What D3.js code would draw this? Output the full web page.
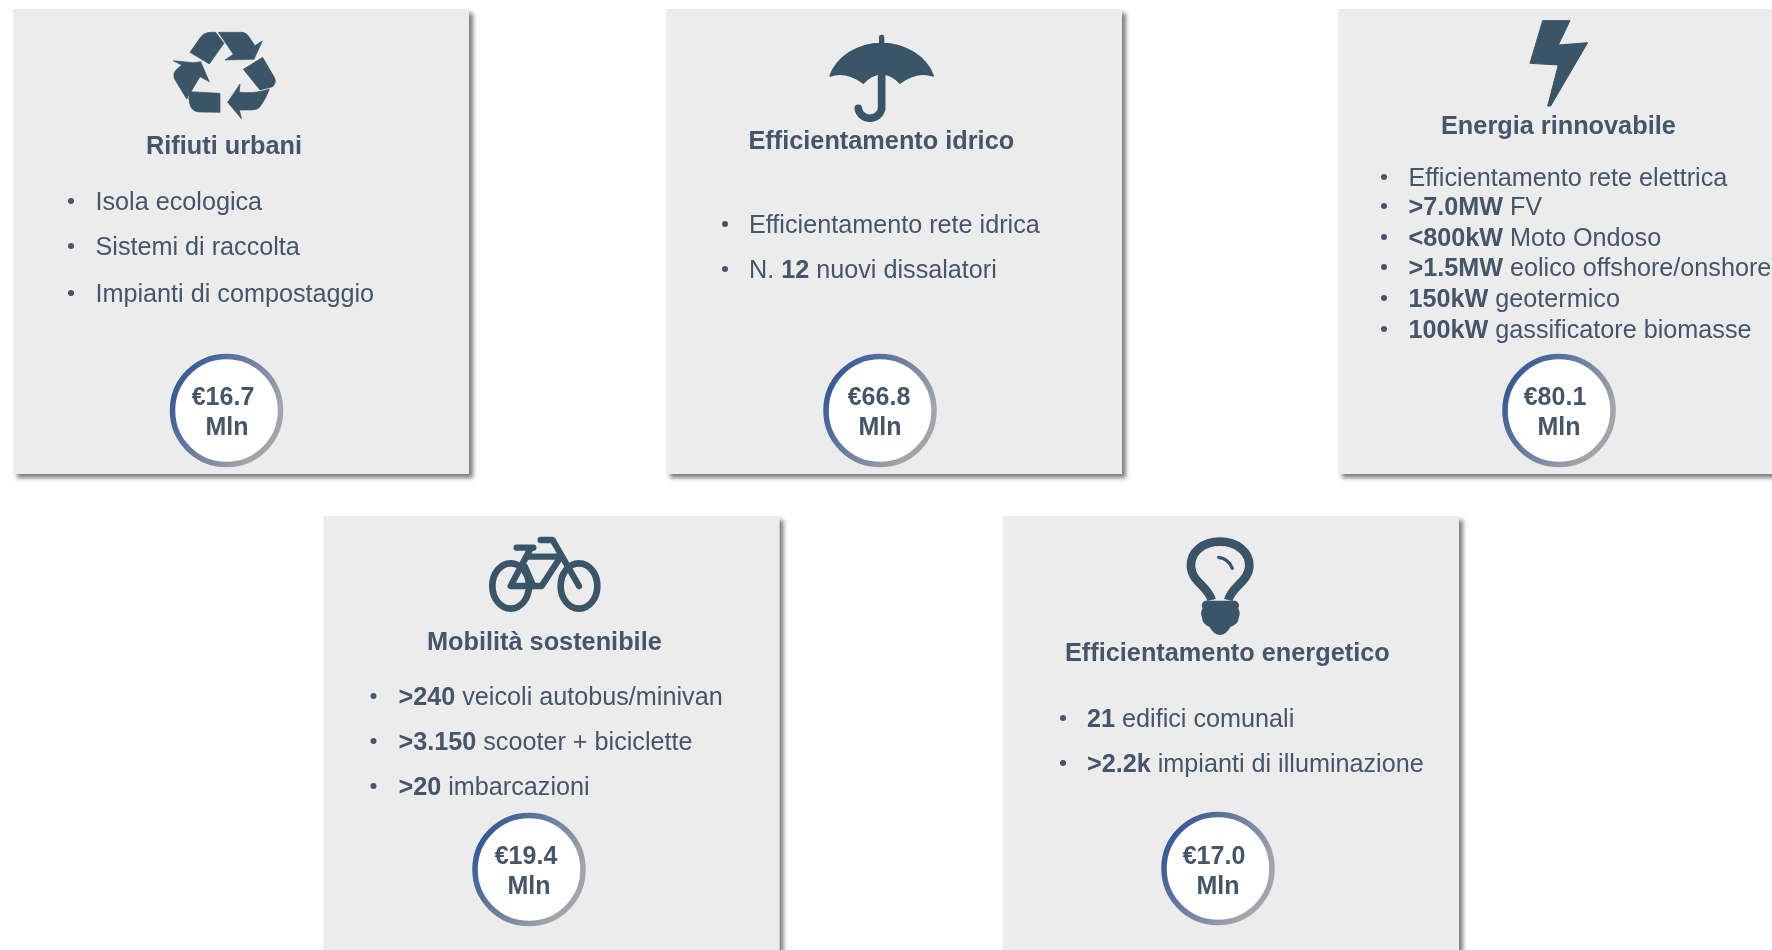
<!DOCTYPE html>
<html>
<head>
<meta charset="utf-8">
<script src="https://cdnjs.cloudflare.com/ajax/libs/d3/7.8.5/d3.min.js"></script>
<style>
  html, body { margin: 0; padding: 0; background: #fff; overflow: hidden; }
  text { font-family: "Liberation Sans", Arial, sans-serif; }
</style>
</head>
<body>
<div id="chart"></div>
<script>
// ------------------------------------------------------------------------------------------------------------------
// data
var cardTitles = ["Rifiuti urbani", "Efficientamento idrico", "Energia rinnovabile", "Mobilità sostenibile", "Efficientamento energetico"];
var cardBudgets = [16.7, 66.8, 80.1, 19.4, 17.0];
var budgetUnit = "Mln";

// ** marks the bold part of a line
var itemsRifiuti = ["Isola ecologica", "Sistemi di raccolta", "Impianti di compostaggio"];
var itemsIdrico = ["Efficientamento rete idrica", "N. **12** nuovi dissalatori"];
var itemsEnergia = ["Efficientamento rete elettrica", "**>7.0MW** FV", "**<800kW** Moto Ondoso", "**>1.5MW** eolico offshore/onshore", "**150kW** geotermico", "**100kW** gassificatore biomasse"];
var itemsMobilita = ["**>240** veicoli autobus/minivan", "**>3.150** scooter + biciclette", "**>20** imbarcazioni"];
var itemsEfficienza = ["**21** edifici comunali", "**>2.2k** impianti di illuminazione"];
var cardItems = [itemsRifiuti, itemsIdrico, itemsEnergia, itemsMobilita, itemsEfficienza];

// ------------------------------------------------------------------------------------------------------------------
// layout of each card, kept apart from the data
var width = 1772, height = 950;
var cardW = 456, cardH = 465, circleR = 54;
var layout = [
  {x: 13,   y: 9,   titleX: 146,  titleY: 154, bulletX: 71,   itemX: 95.5, itemY: [210, 255, 302],                cx: 226.5, cy: 410.5, valX: 223,  unitX: 227,  valY: 404.5, unitY: 435, icon: "recycle"},
  {x: 666,  y: 9,   titleX: 748.5, titleY: 149, bulletX: 725, itemX: 749,  itemY: [233, 278],                     cx: 880,  cy: 410.5, valX: 879,  unitX: 880,  valY: 404.5, unitY: 435, icon: "umbrella"},
  {x: 1338, y: 9,   titleX: 1441, titleY: 134, bulletX: 1384, itemX: 1408.5, itemY: [186, 215, 246, 276, 307, 338], cx: 1559, cy: 410.5, valX: 1555, unitX: 1559, valY: 404.5, unitY: 435, icon: "bolt"},
  {x: 323.5, y: 516, titleX: 427, titleY: 650, bulletX: 373.5, itemX: 398.5, itemY: [705, 750, 795],              cx: 529,  cy: 869.5, valX: 526,  unitX: 529,  valY: 863.5, unitY: 894, icon: "bike"},
  {x: 1003, y: 516, titleX: 1065, titleY: 661, bulletX: 1063, itemX: 1087, itemY: [727, 772],                     cx: 1218, cy: 868.5, valX: 1214, unitX: 1218, valY: 863.5, unitY: 894, icon: "bulb"}
];

var iconColor = "#3b5468", textColor = "#44546a", cardColor = "#ececed";

var svg = d3.select("#chart").append("svg")
    .attr("width", width)
    .attr("height", height)
    .style("display", "block");

// ------------------------------------------------------------------------------------------------------------------
// shadow of the cards, gradient of the rings, soft focus of the scanned slide
var defs = svg.append("defs");
defs.append("filter")
    .attr("id", "cardShadow")
    .attr("x", "-5%").attr("y", "-5%").attr("width", "110%").attr("height", "110%")
  .append("feDropShadow")
    .attr("dx", 4).attr("dy", 4).attr("stdDeviation", 2.2)
    .attr("flood-color", "#4a4a4a").attr("flood-opacity", 0.7);

defs.append("filter")
    .attr("id", "softFocus")
    .attr("filterUnits", "userSpaceOnUse")
    .attr("x", 0).attr("y", 0).attr("width", width).attr("height", height)
  .append("feGaussianBlur")
    .attr("stdDeviation", 0.55);

var ring = defs.append("linearGradient")
    .attr("id", "ringGradient")
    .attr("x1", "0%").attr("y1", "20%").attr("x2", "85%").attr("y2", "70%");
ring.append("stop").attr("offset", "0%").attr("stop-color", "#2f5597");
ring.append("stop").attr("offset", "100%").attr("stop-color", "#a2a4a9");

var root = svg.append("g").attr("filter", "url(#softFocus)");

var cards = root.selectAll(".card")
    .data(layout)
    .enter().append("g")
    .attr("class", "card");

cards.append("rect")
    .attr("x", function(d) { return d.x; })
    .attr("y", function(d) { return d.y; })
    .attr("width", cardW)
    .attr("height", cardH)
    .attr("fill", cardColor)
    .attr("filter", "url(#cardShadow)");

// ------------------------------------------------------------------------------------------------------------------
// titles
cards.append("text")
    .attr("x", function(d) { return d.titleX; })
    .attr("y", function(d) { return d.titleY; })
    .attr("fill", textColor)
    .attr("font-size", 25.3)
    .attr("font-weight", "bold")
    .text(function(d, i) { return cardTitles[i]; });

// bullet lists
cards.each(function(d, i) {
  var g = d3.select(this);
  cardItems[i].forEach(function(item, k) {
    g.append("circle")
        .attr("cx", d.bulletX)
        .attr("cy", d.itemY[k] - 9)
        .attr("r", 3)
        .attr("fill", textColor);

    var line = g.append("text")
        .attr("x", d.itemX)
        .attr("y", d.itemY[k])
        .attr("fill", textColor)
        .attr("font-size", 25.2);

    item.split("**").forEach(function(part, j) {
      if (part === "") return;
      line.append("tspan")
          .attr("font-weight", j % 2 === 1 ? "bold" : "normal")
          .text(part);
    });
  });
});

// ------------------------------------------------------------------------------------------------------------------
// budget rings
cards.append("circle")
    .attr("cx", function(d) { return d.cx; })
    .attr("cy", function(d) { return d.cy; })
    .attr("r", circleR)
    .attr("fill", "#fff")
    .attr("stroke", "url(#ringGradient)")
    .attr("stroke-width", 5.5);

var formatBudget = d3.format(".1f");

cards.append("text")
    .attr("x", function(d) { return d.valX; })
    .attr("y", function(d) { return d.valY; })
    .attr("text-anchor", "middle")
    .attr("fill", textColor)
    .attr("font-size", 25)
    .attr("font-weight", "bold")
    .text(function(d, i) { return "€" + formatBudget(cardBudgets[i]); });

cards.append("text")
    .attr("x", function(d) { return d.unitX; })
    .attr("y", function(d) { return d.unitY; })
    .attr("text-anchor", "middle")
    .attr("fill", textColor)
    .attr("font-size", 25)
    .attr("font-weight", "bold")
    .text(budgetUnit);

// ------------------------------------------------------------------------------------------------------------------
// icons, traced at 3x so they scale down by a third
function iconGroup(ox, oy) {
  return root.append("g").attr("transform", "translate(" + ox + "," + oy + ") scale(0.3333)");
}

// recycle
var recycle = iconGroup(150, 15);
[
  "M120,112 L152,66 Q163,52 180,52 L197,52 L222,85 L178,147 Z",
  "M205,52 L275,52 Q289,52 296,64 L315,92 L337,78 L312,133 L225,135 L250,118 Z",
  "M280,163 L338,127 L373,187 Q381,203 368,215 L330,225 Z",
  "M358,222 Q348,252 330,275 Q322,285 305,285 L268,285 L275,312 L233,262 L270,207 L268,232 Q320,236 358,222 Z",
  "M120,230 L210,235 L210,292 L150,291 Q130,291 122,275 Q112,250 120,230 Z",
  "M70,137 L130,143 L152,140 L178,200 L150,185 L110,252 L76,196 Q66,180 78,165 L95,150 Z"
].forEach(function(p) {
  recycle.append("path").attr("d", p).attr("fill", iconColor)
      .attr("stroke", iconColor).attr("stroke-width", 2).attr("stroke-linejoin", "round");
});

// umbrella
var umbrella = iconGroup(650, 0);
umbrella.append("path")
    .attr("d", "M540,228 C560,170 625,130 695,130 C765,130 830,170 850,228 Q800,212 750,250 Q725,222 695,222 Q665,222 640,250 Q590,212 540,228 Z")
    .attr("fill", iconColor)
    .attr("stroke", iconColor).attr("stroke-width", 4).attr("stroke-linejoin", "round");
umbrella.append("path")
    .attr("d", "M695,112 V135")
    .attr("stroke", iconColor).attr("stroke-width", 16).attr("stroke-linecap", "round");
umbrella.append("path")
    .attr("d", "M695,225 V318 A35,33 0 0 1 625,325")
    .attr("fill", "none")
    .attr("stroke", iconColor).attr("stroke-width", 23).attr("stroke-linecap", "round");

// lightning bolt
iconGroup(1320, 0).append("path")
    .attr("d", "M668,62 L750,62 L715,135 L803,128 L692,318 L683,318 L715,195 L630,190 Z")
    .attr("fill", iconColor)
    .attr("stroke", iconColor).attr("stroke-width", 3).attr("stroke-linejoin", "round");

// bicycle
var bike = iconGroup(470, 525);
[[122, 183], [327, 183]].forEach(function(w) {
  bike.append("ellipse")
      .attr("cx", w[0]).attr("cy", w[1]).attr("rx", 55).attr("ry", 68)
      .attr("fill", "none").attr("stroke", iconColor).attr("stroke-width", 20);
});
[
  "M140,68 H190",
  "M212,45 H248 L327,183",
  "M175,95 H272",
  "M182,70 L122,183 H215 L272,95",
  "M165,125 L190,183"
].forEach(function(p) {
  bike.append("path").attr("d", p)
      .attr("fill", "none").attr("stroke", iconColor).attr("stroke-width", 19)
      .attr("stroke-linecap", "round").attr("stroke-linejoin", "round");
});

// light bulb
var bulb = iconGroup(990, 500);
bulb.append("path")
    .attr("d", "M665,300 C655,260 605,245 603,200 C600,155 640,125 690,125 C740,125 780,155 778,200 C775,245 725,260 715,300")
    .attr("fill", "none").attr("stroke", iconColor).attr("stroke-width", 26);
bulb.append("path")
    .attr("d", "M645,302 H737 Q752,310 745,325 Q752,340 747,352 Q745,375 722,380 Q708,405 690,405 Q672,405 658,380 Q638,375 636,352 Q630,340 638,325 Q630,310 645,302 Z")
    .attr("fill", iconColor);
bulb.append("path")
    .attr("d", "M686,172 Q716,176 727,205")
    .attr("fill", "none").attr("stroke", iconColor).attr("stroke-width", 10).attr("stroke-linecap", "round");
</script>
</body>
</html>
